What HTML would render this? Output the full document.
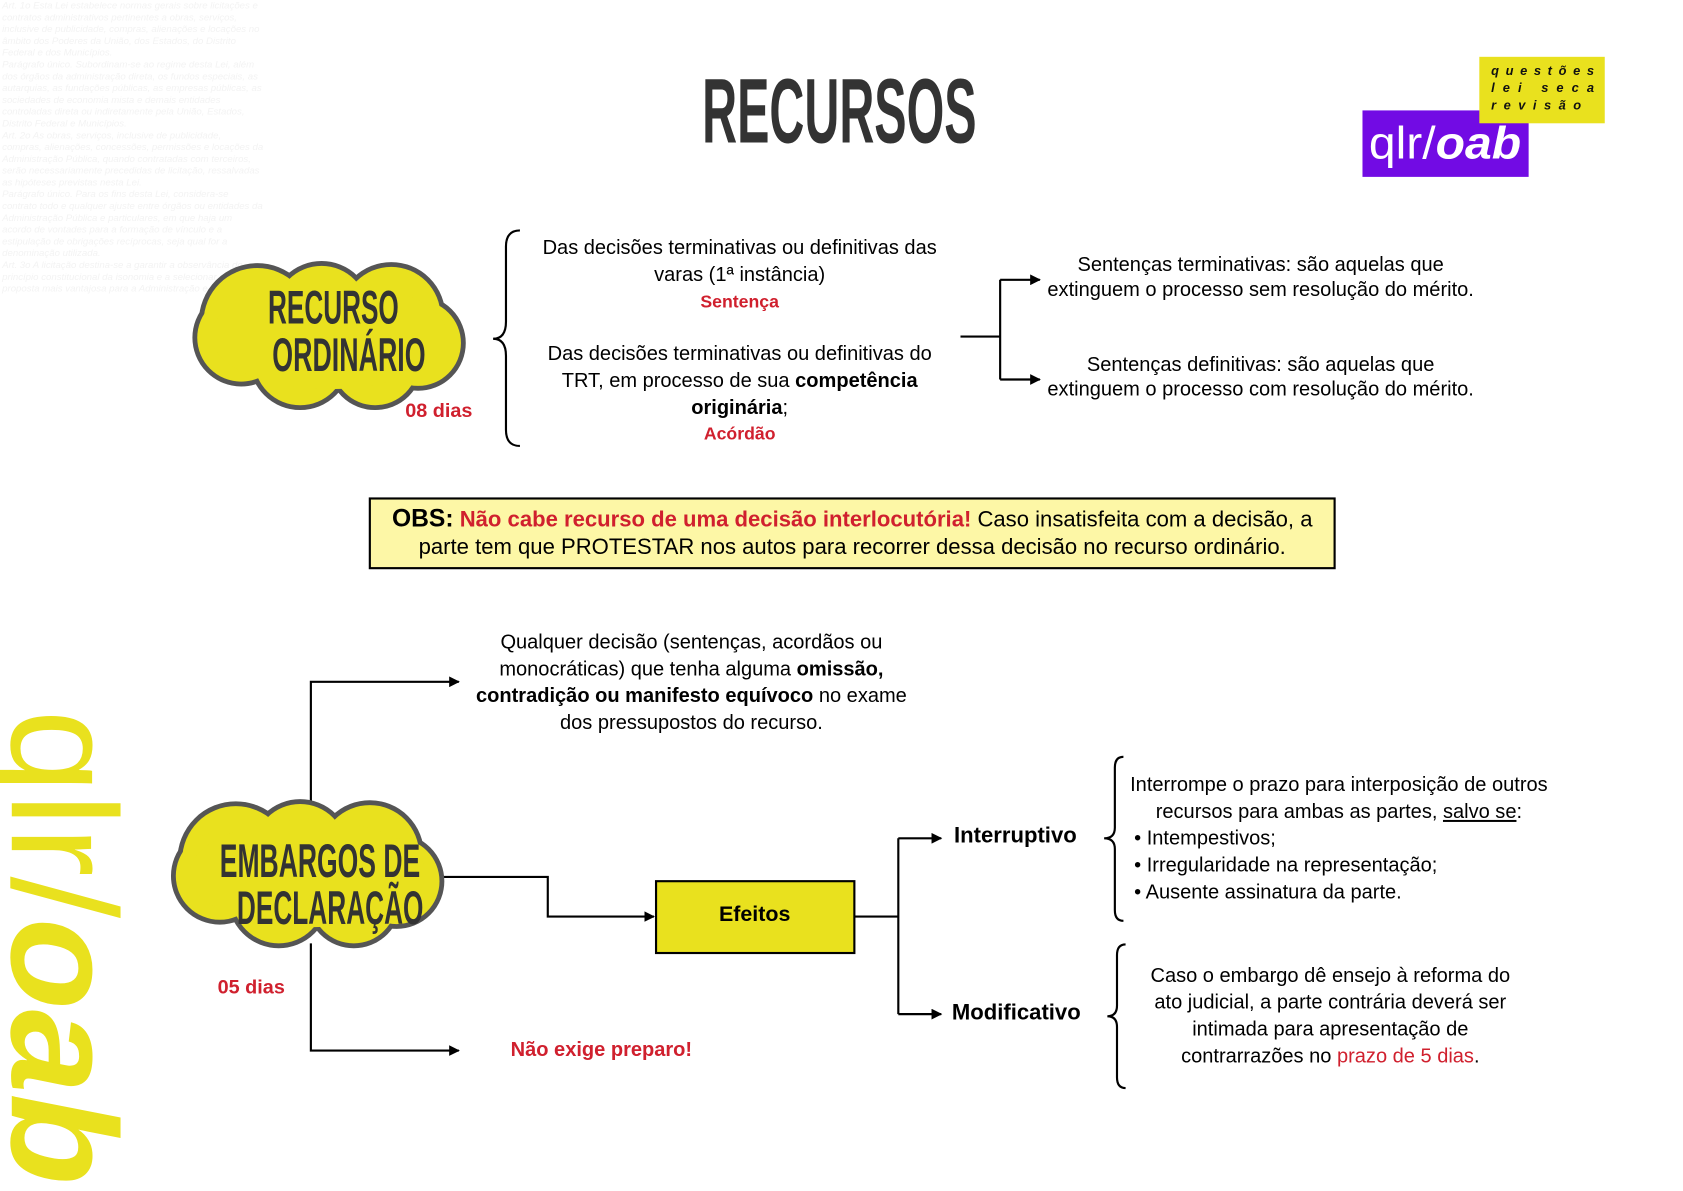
<!DOCTYPE html>
<html><head><meta charset="utf-8"><style>
html,body{margin:0;padding:0;background:#fff;}
svg{display:block;}
text{font-family:"Liberation Sans",sans-serif;}
</style></head><body>
<svg width="1683" height="1191" viewBox="0 0 1570 1111" preserveAspectRatio="none" xmlns="http://www.w3.org/2000/svg">
<defs>
<marker id="ar" markerWidth="10" markerHeight="10" refX="9" refY="5" orient="auto" markerUnits="userSpaceOnUse">
<path d="M0,0 L10,5 L0,10 z" fill="#000"/></marker>
<g id="cloud">
<g fill="#e9e11e" stroke="#555" stroke-width="5">
<circle cx="240" cy="300" r="52"/><circle cx="300" cy="291" r="45"/><circle cx="365" cy="295" r="48"/>
<circle cx="225" cy="315" r="43"/><circle cx="390" cy="320" r="42"/><circle cx="280" cy="335" r="45"/><circle cx="350" cy="338" r="42"/>
</g>
<g fill="#e9e11e">
<circle cx="240" cy="300" r="50"/><circle cx="300" cy="291" r="43"/><circle cx="365" cy="295" r="46"/>
<circle cx="225" cy="315" r="41"/><circle cx="390" cy="320" r="40"/><circle cx="280" cy="335" r="43"/><circle cx="350" cy="338" r="40"/>
<ellipse cx="307" cy="313" rx="110" ry="50"/>
</g>
</g>
</defs>

<g fill="#f3f3f3" font-family="Liberation Serif" font-style="italic" font-size="9">
<text x="2" y="8">Art. 1o Esta Lei estabelece normas gerais sobre licitações e</text>
<text x="2" y="19">contratos administrativos pertinentes a obras, serviços,</text>
<text x="2" y="30">inclusive de publicidade, compras, alienações e locações no</text>
<text x="2" y="41">âmbito dos Poderes da União, dos Estados, do Distrito</text>
<text x="2" y="52">Federal e dos Municípios.</text>
<text x="2" y="63">Parágrafo único. Subordinam-se ao regime desta Lei, além</text>
<text x="2" y="74">dos órgãos da administração direta, os fundos especiais, as</text>
<text x="2" y="85">autarquias, as fundações públicas, as empresas públicas, as</text>
<text x="2" y="96">sociedades de economia mista e demais entidades</text>
<text x="2" y="107">controladas direta ou indiretamente pela União, Estados,</text>
<text x="2" y="118">Distrito Federal e Municípios.</text>
<text x="2" y="129">Art. 2o As obras, serviços, inclusive de publicidade,</text>
<text x="2" y="140">compras, alienações, concessões, permissões e locações da</text>
<text x="2" y="151">Administração Pública, quando contratadas com terceiros,</text>
<text x="2" y="162">serão necessariamente precedidas de licitação, ressalvadas</text>
<text x="2" y="173">as hipóteses previstas nesta Lei.</text>
<text x="2" y="184">Parágrafo único. Para os fins desta Lei, considera-se</text>
<text x="2" y="195">contrato todo e qualquer ajuste entre órgãos ou entidades da</text>
<text x="2" y="206">Administração Pública e particulares, em que haja um</text>
<text x="2" y="217">acordo de vontades para a formação de vínculo e a</text>
<text x="2" y="228">estipulação de obrigações recíprocas, seja qual for a</text>
<text x="2" y="239">denominação utilizada.</text>
<text x="2" y="250">Art. 3o A licitação destina-se a garantir a observância do</text>
<text x="2" y="261">princípio constitucional da isonomia e a selecionar a</text>
<text x="2" y="272">proposta mais vantajosa para a Administração e</text>
</g>

<g transform="translate(11,662) rotate(90)" fill="#e9e11e">
<text x="0" y="0" font-size="140"><tspan font-weight="normal">qlr/</tspan><tspan font-weight="bold" font-style="italic">oab</tspan></text>
</g>

<text x="655" y="133" font-size="86" font-weight="bold" fill="#333" textLength="256" lengthAdjust="spacingAndGlyphs">RECURSOS</text>

<rect x="1271" y="103" width="155" height="62" fill="#720be4"/>
<text x="1277" y="148" font-size="42" fill="#fff" textLength="142" lengthAdjust="spacingAndGlyphs"><tspan>qlr/</tspan><tspan font-weight="bold" font-style="italic">oab</tspan></text>
<rect x="1380" y="53" width="117" height="62" fill="#e9e11e"/>
<g font-family="Liberation Mono" font-weight="bold" font-style="italic" font-size="12" fill="#111">
<text x="1391" y="70" textLength="96">questões</text>
<text x="1391" y="86" textLength="96">lei seca</text>
<text x="1391" y="102" textLength="84">revisão</text>
</g>

<use href="#cloud"/>
<g font-weight="bold" fill="#333" font-size="44">
<text x="250" y="302" textLength="122" lengthAdjust="spacingAndGlyphs">RECURSO</text>
<text x="254" y="346" textLength="143" lengthAdjust="spacingAndGlyphs">ORDINÁRIO</text>
</g>
<text x="378" y="389" font-size="18.5" font-weight="bold" fill="#d0202e">08 dias</text>

<path d="M485,215 Q472,215 472,230 L472,300 Q472,316 460,316 Q472,316 472,332 L472,401 Q472,416 485,416" fill="none" stroke="#000" stroke-width="2"/>

<g font-size="18.7" text-anchor="middle" fill="#000">
<text x="690" y="237">Das decisões terminativas ou definitivas das</text>
<text x="690" y="262">varas (1ª instância)</text>
<text x="690" y="287" font-size="16.5" font-weight="bold" fill="#d0202e">Sentença</text>
<text x="690" y="336">Das decisões terminativas ou definitivas do</text>
<text x="690" y="361">TRT, em processo de sua <tspan font-weight="bold">competência</tspan></text>
<text x="690" y="386"><tspan font-weight="bold">originária</tspan>;</text>
<text x="690" y="410" font-size="16.5" font-weight="bold" fill="#d0202e">Acórdão</text>

<text x="1176" y="253">Sentenças terminativas: são aquelas que</text>
<text x="1176" y="276">extinguem o processo sem resolução do mérito.</text>
<text x="1176" y="346">Sentenças definitivas: são aquelas que</text>
<text x="1176" y="369">extinguem o processo com resolução do mérito.</text>
</g>

<g fill="none" stroke="#000" stroke-width="2">
<path d="M896,314 L933,314"/>
<path d="M933,261 L933,354"/>
<path d="M933,261 L970,261" marker-end="url(#ar)"/>
<path d="M933,354 L970,354" marker-end="url(#ar)"/>
</g>

<rect x="345" y="465" width="900" height="65" fill="#fdf7a6" stroke="#000" stroke-width="2"/>
<g font-size="20.6" text-anchor="middle">
<text x="795" y="491"><tspan font-weight="bold" font-size="23">OBS:</tspan> <tspan font-weight="bold" fill="#d0202e">Não cabe recurso de uma decisão interlocutória!</tspan> Caso insatisfeita com a decisão, a</text>
<text x="795" y="517">parte tem que PROTESTAR nos autos para recorrer dessa decisão no recurso ordinário.</text>
</g>

<g fill="none" stroke="#000" stroke-width="2">
<path d="M290,760 L290,636 L428,636" marker-end="url(#ar)"/>
<path d="M290,880 L290,980 L428,980" marker-end="url(#ar)"/>
<path d="M412,818 L511,818 L511,855 L610,855" marker-end="url(#ar)"/>
<path d="M797,855 L838,855"/>
<path d="M838,782 L838,946"/>
<path d="M838,782 L878,782" marker-end="url(#ar)"/>
<path d="M838,946 L878,946" marker-end="url(#ar)"/>
</g>

<use href="#cloud" transform="translate(-20,502)"/>
<g font-weight="bold" fill="#333" font-size="44">
<text x="205" y="818" textLength="187" lengthAdjust="spacingAndGlyphs">EMBARGOS DE</text>
<text x="221" y="862" textLength="174" lengthAdjust="spacingAndGlyphs">DECLARAÇÃO</text>
</g>
<text x="203" y="927" font-size="18.5" font-weight="bold" fill="#d0202e">05 dias</text>

<g font-size="18.7" text-anchor="middle">
<text x="645" y="605">Qualquer decisão (sentenças, acordãos ou</text>
<text x="645" y="630">monocráticas) que tenha alguma <tspan font-weight="bold">omissão,</tspan></text>
<text x="645" y="655"><tspan font-weight="bold">contradição ou manifesto equívoco</tspan> no exame</text>
<text x="645" y="680">dos pressupostos do recurso.</text>
<text x="561" y="985" font-weight="bold" fill="#d0202e">Não exige preparo!</text>
</g>

<rect x="612" y="822" width="185" height="67" fill="#e9e11e" stroke="#000" stroke-width="2"/>
<text x="704" y="859" font-size="20" font-weight="bold" text-anchor="middle">Efeitos</text>
<text x="890" y="786" font-size="20.6" font-weight="bold">Interruptivo</text>
<text x="888" y="951" font-size="20.6" font-weight="bold">Modificativo</text>

<path d="M1048,706 Q1040,706 1040,716 L1040,772 Q1040,782 1030,782 Q1040,782 1040,792 L1040,849 Q1040,859 1048,859" fill="none" stroke="#000" stroke-width="2"/>
<path d="M1050,881 Q1042,881 1042,891 L1042,938 Q1042,948 1033,948 Q1042,948 1042,958 L1042,1005 Q1042,1015 1050,1015" fill="none" stroke="#000" stroke-width="2"/>

<g font-size="18.7">
<text x="1249" y="738" text-anchor="middle">Interrompe o prazo para interposição de outros</text>
<text x="1249" y="763" text-anchor="middle">recursos para ambas as partes, <tspan text-decoration="underline">salvo se</tspan>:</text>
<text x="1058" y="788">• Intempestivos;</text>
<text x="1058" y="813">• Irregularidade na representação;</text>
<text x="1058" y="838">• Ausente assinatura da parte.</text>
<g text-anchor="middle">
<text x="1241" y="916">Caso o embargo dê ensejo à reforma do</text>
<text x="1241" y="941">ato judicial, a parte contrária deverá ser</text>
<text x="1241" y="966">intimada para apresentação de</text>
<text x="1241" y="991">contrarrazões no <tspan fill="#d0202e">prazo de 5 dias</tspan>.</text>
</g>
</g>
</svg>
</body></html>
